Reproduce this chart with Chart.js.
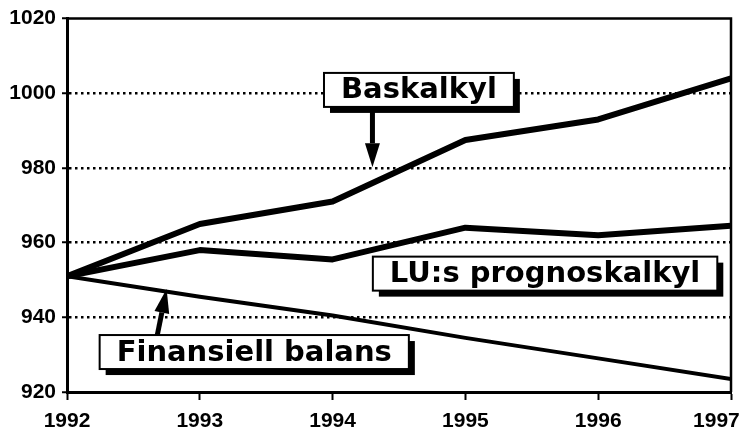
<!DOCTYPE html>
<html>
<head>
<meta charset="utf-8">
<script src="https://cdn.jsdelivr.net/npm/chart.js@4.4.1/dist/chart.umd.min.js"></script>
<style>
  html, body { margin: 0; padding: 0; background: #fff; overflow: hidden; }
  #wrap { width: 739px; height: 430px; }
</style>
</head>
<body>
<div id="wrap"><canvas id="chart"></canvas></div>
<script>
// values
const years = [1992, 1993, 1994, 1995, 1996, 1997];
const baskalkyl = [951, 965, 971, 987.5, 993, 1004];
const luPrognos = [951, 958, 955.5, 964, 962, 964.5];
const finansiellBalans = [951, 945.5, 940.5, 934.5, 929, 923.5];
const yTicks = [920, 940, 960, 980, 1000, 1020];

// callout boxes and arrows, placed in data units
const callouts = [
    { text: 'Baskalkyl', at: [1994.65, 1000.9] },
    { text: 'LU:s prognoskalkyl', at: [1995.6, 951.7] },
    { text: 'Finansiell balans', at: [1993.41, 930.7] }
];
const pointers = [
    { from: [1994.3, 997], to: [1994.3, 980.2] },
    { from: [1992.67, 933.5], to: [1992.75, 947.6] }
];

const tickFont = { family: '"Liberation Sans", Arial, sans-serif', size: 21, weight: 'bold' };

function toPoints(vals) {
    return years.map((y, i) => ({ x: y, y: vals[i] }));
}

const framePlugin = {
    id: 'frame',
    afterDraw(chart) {
        const { ctx, chartArea: a } = chart;
        ctx.save();
        ctx.strokeStyle = '#000';
        ctx.lineWidth = 2.5;
        ctx.beginPath();
        ctx.moveTo(a.left, a.top);
        ctx.lineTo(a.right, a.top);
        ctx.lineTo(a.right, a.bottom);
        ctx.stroke();
        ctx.restore();
    }
};

const calloutPlugin = {
    id: 'callouts',
    afterDatasetsDraw(chart) {
        const { ctx } = chart;
        const xs = chart.scales.x, ys = chart.scales.y;
        ctx.save();
        ctx.fillStyle = '#000';
        pointers.forEach(p => {
            const x1 = xs.getPixelForValue(p.from[0]), y1 = ys.getPixelForValue(p.from[1]);
            const x2 = xs.getPixelForValue(p.to[0]), y2 = ys.getPixelForValue(p.to[1]);
            const len = Math.hypot(x2 - x1, y2 - y1);
            const dx = (x2 - x1) / len, dy = (y2 - y1) / len;
            const head = 24, half = 7.5;
            const bx = x2 - dx * head, by = y2 - dy * head;
            ctx.lineWidth = 5;
            ctx.strokeStyle = '#000';
            ctx.beginPath();
            ctx.moveTo(x1, y1);
            ctx.lineTo(bx, by);
            ctx.stroke();
            ctx.beginPath();
            ctx.moveTo(x2, y2);
            ctx.lineTo(bx - dy * half, by + dx * half);
            ctx.lineTo(bx + dy * half, by - dx * half);
            ctx.closePath();
            ctx.fill();
        });

        ctx.font = 'bold 29px "DejaVu Sans", sans-serif';
        ctx.textAlign = 'center';
        ctx.textBaseline = 'middle';
        callouts.forEach(c => {
            const cx = xs.getPixelForValue(c.at[0]);
            const cy = ys.getPixelForValue(c.at[1]);
            const w = ctx.measureText(c.text).width + 34;
            const h = 34;
            const x0 = cx - w / 2, y0 = cy - h / 2;
            ctx.fillStyle = '#000';
            ctx.fillRect(x0 + 6, y0 + 6, w, h);
            ctx.fillStyle = '#fff';
            ctx.fillRect(x0, y0, w, h);
            ctx.lineWidth = 2;
            ctx.strokeStyle = '#000';
            ctx.strokeRect(x0, y0, w, h);
            ctx.fillStyle = '#000';
            ctx.fillText(c.text, cx, cy + 1);
        });
        ctx.restore();
    }
};

const ctx = document.getElementById('chart').getContext('2d');
const myChart = new Chart(ctx, {
    type: 'line',
    data: {
        datasets: [
            { label: 'Baskalkyl', data: toPoints(baskalkyl), borderWidth: 6 },
            { label: 'LU:s prognoskalkyl', data: toPoints(luPrognos), borderWidth: 6 },
            { label: 'Finansiell balans', data: toPoints(finansiellBalans), borderWidth: 4 }
        ]
    },
    options: {
        responsive: true,
        maintainAspectRatio: false,
        animation: false,
        layout: { padding: { top: 18, right: 8, left: 0, bottom: 0 } },
        plugins: {
            legend: { display: false },
            tooltip: { enabled: false }
        },
        elements: {
            point: { radius: 0 },
            line: { borderColor: '#000', tension: 0, borderJoinStyle: 'round', borderCapStyle: 'butt' }
        },
        scales: {
            x: {
                type: 'linear',
                min: 1992,
                max: 1997,
                afterBuildTicks: s => { s.ticks = years.map(v => ({ value: v })); },
                afterFit: s => { s.height = 38; s.paddingLeft = 0; s.paddingRight = 0; },
                ticks: {
                    font: tickFont,
                    color: '#000',
                    padding: 9,
                    maxRotation: 0,
                    callback: v => v === 1997 ? '1997     ' : String(v)
                },
                grid: { drawOnChartArea: false, tickLength: 8, tickColor: '#000', tickWidth: 2 },
                border: { color: '#000', width: 3 }
            },
            y: {
                min: 920,
                max: 1020,
                afterBuildTicks: s => { s.ticks = yTicks.map(v => ({ value: v })); },
                afterFit: s => { s.width = 67; },
                ticks: { font: tickFont, color: '#000', padding: 6, callback: v => String(v) },
                grid: {
                    color: c => (c.tick && (c.tick.value === 920 || c.tick.value === 1020)) ? 'rgba(0,0,0,0)' : '#000',
                    lineWidth: 2.5,
                    tickLength: 5,
                    tickColor: '#000',
                    tickWidth: 2
                },
                border: { color: '#000', width: 3, dash: [2.5, 3.5] }
            }
        }
    },
    plugins: [framePlugin, calloutPlugin]
});
</script>
</body>
</html>
